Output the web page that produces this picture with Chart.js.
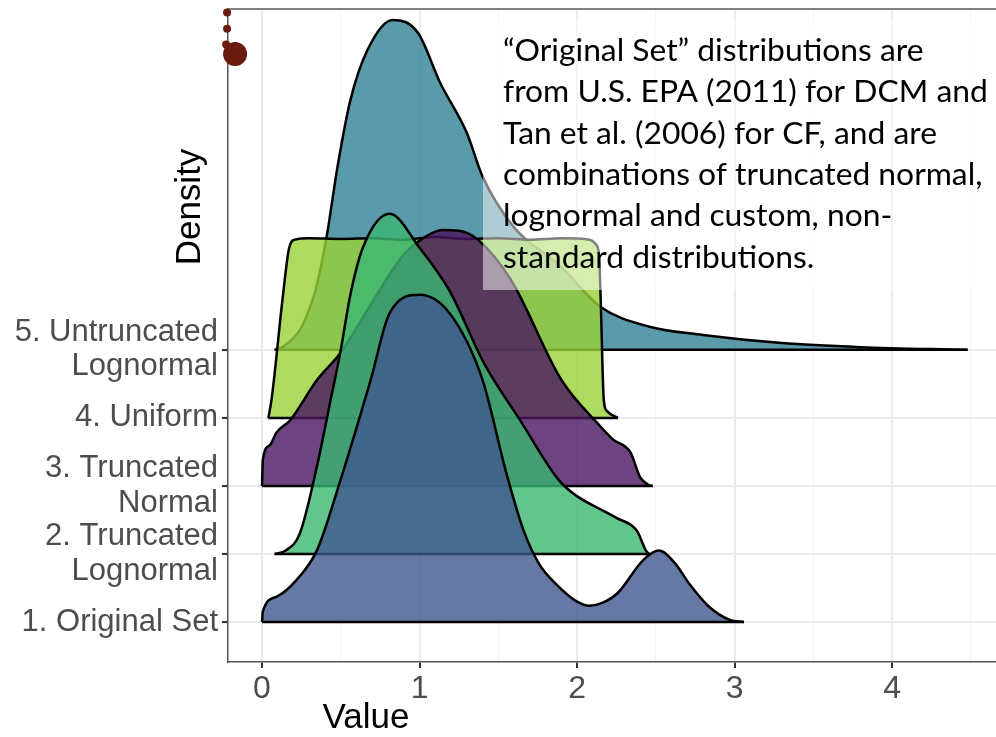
<!DOCTYPE html>
<html>
<head>
<meta charset="utf-8">
<script src="https://cdn.jsdelivr.net/npm/chart.js@4"></script>
<style>
  body { margin: 0; background: #fff; }
  canvas { display: block; }
</style>
</head>
<body>
<canvas id="ridges" width="996" height="737"></canvas>
<script>
// ridge labels, bottom to top
const categories = [
  ["1. Original Set"],
  ["2. Truncated", "Lognormal"],
  ["3. Truncated", "Normal"],
  ["4. Uniform"],
  ["5. Untruncated", "Lognormal"]
];
const xTickValues = [0, 1, 2, 3, 4];

// density heights above each baseline (in ridge units)
const originalX = [0, 0.005, 0.09, 0.22, 0.35, 0.5, 0.69, 0.81, 1.0, 1.19, 1.40, 1.55, 1.66, 1.76, 1.87, 2.0, 2.08, 2.16, 2.26, 2.42, 2.52, 2.62, 2.71, 2.84, 2.97, 3.06];
const originalH = [0, 0.15, 0.37, 0.62, 1.06, 2.1, 3.56, 4.54, 4.81, 4.54, 3.56, 2.2, 1.35, 0.85, 0.55, 0.3, 0.24, 0.28, 0.43, 0.91, 1.05, 0.87, 0.57, 0.22, 0.03, 0];

const truncLognormX = [0.08, 0.15, 0.24, 0.35, 0.43, 0.5, 0.56, 0.64, 0.81, 1.0, 1.19, 1.41, 1.64, 1.89, 2.0, 2.17, 2.25, 2.38, 2.44, 2.46];
const truncLognormH = [0, 0.05, 0.3, 1.3, 2.2, 3.0, 3.8, 4.5, 5.0, 4.5, 3.87, 2.8, 1.96, 1.07, 0.85, 0.63, 0.53, 0.34, 0.04, 0];

const truncNormalX = [0, 0.005, 0.05, 0.09, 0.18, 0.35, 0.5, 0.7, 0.9, 1.05, 1.15, 1.25, 1.37, 1.58, 1.9, 2.15, 2.23, 2.34, 2.40, 2.46, 2.48];
const truncNormalH = [0, 0.38, 0.6, 0.78, 0.97, 1.56, 1.96, 2.7, 3.4, 3.68, 3.76, 3.75, 3.62, 3.03, 1.56, 0.87, 0.68, 0.49, 0.13, 0.01, 0];

const uniformX = [0.04, 0.06, 0.13, 0.17, 0.21, 0.3, 0.5, 0.7, 0.9, 1.1, 1.3, 1.5, 1.7, 1.9, 2.08, 2.12, 2.14, 2.15, 2.17, 2.19, 2.26];
const uniformH = [0, 0.26, 1.74, 2.47, 2.62, 2.64, 2.63, 2.64, 2.62, 2.66, 2.63, 2.64, 2.62, 2.64, 2.62, 2.55, 2.4, 1.75, 0.26, 0.1, 0];

const untruncX = [0.08, 0.13, 0.24, 0.29, 0.34, 0.41, 0.48, 0.56, 0.67, 0.83, 0.99, 1.13, 1.30, 1.40, 1.60, 1.89, 2.15, 2.46, 2.80, 3.30, 3.80, 4.48];
const untruncH = [0, 0.04, 0.29, 0.54, 0.88, 1.66, 2.70, 3.66, 4.41, 4.85, 4.66, 3.93, 3.19, 2.55, 1.8, 1.24, 0.63, 0.34, 0.22, 0.10, 0.04, 0];

// stray points at the top left of the panel
const dotX = [-0.222, -0.222, -0.222, -0.228, -0.171];
const dotY = [10.15, 9.96, 9.72, 9.49, 9.35];
const dotR = [4, 4, 4, 4, 12];

const noteLines = [
  "\u201cOriginal Set\u201d distributions are",
  "from U.S. EPA (2011) for DCM and",
  "Tan et al. (2006) for CF, and are",
  "combinations of truncated normal,",
  "lognormal and custom, non-",
  "standard distributions."
];

const ridgeX = [originalX, truncLognormX, truncNormalX, uniformX, untruncX];
const ridgeH = [originalH, truncLognormH, truncNormalH, uniformH, untruncH];
const fills = [
  'rgba(64,88,143,0.8)',
  'rgba(59,183,114,0.8)',
  'rgba(74,21,96,0.8)',
  'rgba(154,210,55,0.8)',
  'rgba(50,129,149,0.8)'
];

const datasets = [{
  type: 'scatter',
  data: dotX.map((x, i) => ({ x: x, y: dotY[i] })),
  pointRadius: dotR,
  backgroundColor: '#6B1A0E',
  borderWidth: 0,
  clip: false
}];

// first dataset is drawn on top, so the bottom ridge goes first
ridgeX.forEach((xs, i) => {
  const base = i + 1;
  datasets.push({
    data: [{ x: xs[0], y: base }, { x: xs[xs.length - 1], y: base }],
    borderColor: '#000',
    borderWidth: 2.5,
    pointRadius: 0,
    fill: false
  });
  datasets.push({
    data: xs.map((x, j) => ({ x: x, y: base + ridgeH[i][j] })),
    borderColor: '#000',
    borderWidth: 2.5,
    backgroundColor: fills[i],
    fill: { value: base },
    pointRadius: 0,
    cubicInterpolationMode: 'monotone'
  });
});

const decor = {
  id: 'decor',
  afterDatasetsDraw(chart) {
    const ctx = chart.ctx;
    const a = chart.chartArea;
    ctx.save();
    ctx.strokeStyle = '#555';
    ctx.lineWidth = 1.5;
    ctx.beginPath();
    ctx.moveTo(a.left, a.top);
    ctx.lineTo(a.right, a.top);
    ctx.stroke();

    ctx.fillStyle = 'rgba(255,255,255,0.5)';
    ctx.fillRect(483, 18, a.right - 483, 272);

    // size the note so lines 2 and 4 span about as wide as in the original
    ctx.font = '32px Lato';
    const w = ctx.measureText(noteLines[1]).width + ctx.measureText(noteLines[3]).width;
    const size = 32 * 964 / w;
    ctx.font = size.toFixed(1) + 'px Lato';
    ctx.fillStyle = '#000';
    ctx.textAlign = 'left';
    ctx.textBaseline = 'alphabetic';
    noteLines.forEach((line, i) => {
      ctx.fillText(line, 503, 61 + i * 41.3);
    });
    ctx.restore();
  },
  afterDraw(chart) {
    const ctx = chart.ctx;
    ctx.save();
    ctx.fillStyle = '#000';
    ctx.font = '35px "Liberation Sans"';
    ctx.textAlign = 'center';
    ctx.textBaseline = 'middle';
    ctx.fillText('Value', 366, 718);
    ctx.translate(190, 207);
    ctx.rotate(-Math.PI / 2);
    ctx.fillText('Density', 0, 0);
    ctx.restore();
  }
};

const isMajor = ctx => ctx.tick && Number.isInteger(ctx.tick.value);

// keep tick labels from pushing the panel inwards
const noPad = scale => {
  scale.paddingTop = 0;
  scale.paddingBottom = 0;
  scale.paddingLeft = 0;
  scale.paddingRight = 0;
};

new Chart(document.getElementById('ridges'), {
  type: 'line',
  data: { datasets: datasets },
  plugins: [decor],
  options: {
    responsive: false,
    animation: false,
    layout: { autoPadding: false, padding: { top: 9, left: 0, right: 0, bottom: 0 } },
    plugins: {
      legend: { display: false },
      tooltip: { enabled: false }
    },
    scales: {
      x: {
        type: 'linear',
        min: -0.216,
        max: 4.66,
        afterBuildTicks: scale => {
          const ticks = [];
          xTickValues.forEach(v => {
            ticks.push({ value: v });
            ticks.push({ value: v + 0.5 });
          });
          scale.ticks = ticks;
        },
        afterFit: scale => { scale.height = 75; noPad(scale); },
        ticks: {
          autoSkip: false,
          maxRotation: 0,
          color: '#4D4D4D',
          padding: 2,
          font: { family: 'Liberation Sans', size: 32 },
          callback: v => xTickValues.includes(v) ? String(v) : ''
        },
        grid: {
          color: ctx => isMajor(ctx) ? '#EBEBEB' : '#F4F4F4',
          lineWidth: ctx => isMajor(ctx) ? 2 : 1,
          tickColor: ctx => isMajor(ctx) ? '#333' : 'rgba(0,0,0,0)',
          tickLength: 6
        },
        border: { color: '#555', width: 1.5 }
      },
      y: {
        type: 'linear',
        min: 0.412,
        max: 10.01,
        afterBuildTicks: scale => {
          scale.ticks = categories.map((c, i) => ({ value: i + 1 }));
        },
        afterFit: scale => { scale.width = 228; noPad(scale); },
        ticks: {
          autoSkip: false,
          color: '#4D4D4D',
          padding: 4,
          font: { family: 'Liberation Sans', size: 31, lineHeight: 1.1 },
          callback: v => categories[v - 1]
        },
        grid: {
          color: '#EBEBEB',
          lineWidth: 2,
          tickColor: '#333',
          tickLength: 6
        },
        border: { color: '#555', width: 1.5 }
      }
    }
  }
});
</script>
</body>
</html>
